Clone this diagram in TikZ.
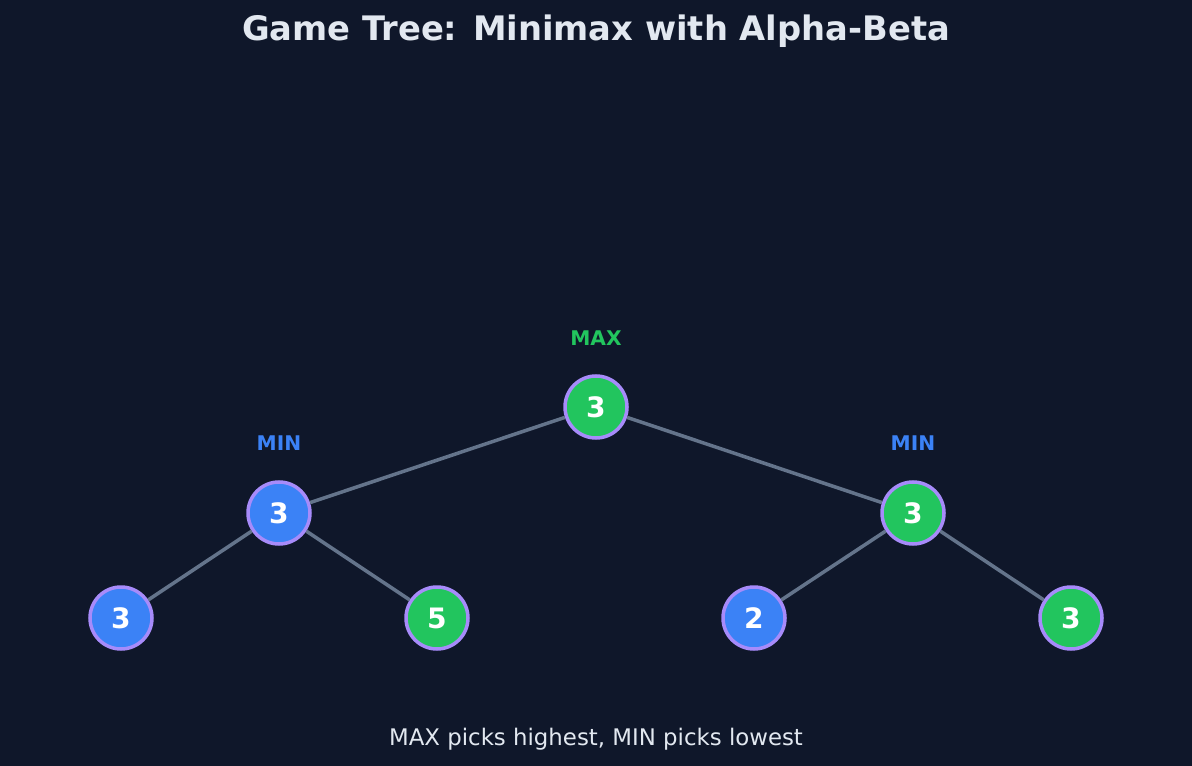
\documentclass[tikz,border=0pt]{standalone}
\usepackage{fontspec}
\setmainfont{DejaVu Sans}
\definecolor{tree_bg}{HTML}{0F172A}
\definecolor{tree_max}{HTML}{22C55E}
\definecolor{tree_min}{HTML}{3B82F6}
\definecolor{tree_ring}{HTML}{A78BFA}
\definecolor{tree_edge}{HTML}{64748B}
\definecolor{tree_text}{HTML}{E2E8F0}
\usetikzlibrary{positioning}

\begin{document}
\begin{tikzpicture}[x=0.02cm, y=-0.02cm,
    maxnode/.style={circle, draw=tree_ring, line width=2pt, fill=tree_max, minimum size=1.24cm, inner sep=0pt, text=white, font=\fontsize{16}{16}\selectfont\bfseries},
    minnode/.style={maxnode, fill=tree_min},
    branch/.style={tree_edge, line width=2pt},
    levellabel/.style={font=\fontsize{11.5}{11.5}\selectfont\bfseries}]
        % Background
        \fill[tree_bg] (0,0) rectangle (1192,766);

        % Title
        \node[text=tree_text, font=\fontsize{19.2}{19.2}\selectfont\bfseries] (title) at (596,31) {Game Tree: Minimax with Alpha-Beta};

        % Root and MIN level
        \node[maxnode] (root) at (596,407) {3};
        \node[minnode] (minL) at (279,513) {3};
        \node[maxnode] (minR) at (913,513) {3};

        % Leaves
        \node[minnode] (leafA) at (121,618) {3};
        \node[maxnode] (leafB) at (437,618) {5};
        \node[minnode] (leafC) at (754,618) {2};
        \node[maxnode] (leafD) at (1071,618) {3};

        % Edges
        \draw[branch] (root) -- (minL);
        \draw[branch] (root) -- (minR);
        \draw[branch] (minL) -- (leafA);
        \draw[branch] (minL) -- (leafB);
        \draw[branch] (minR) -- (leafC);
        \draw[branch] (minR) -- (leafD);

        % Level labels
        \node[levellabel, text=tree_max] (lblMax) at (596,338) {MAX};
        \node[levellabel, text=tree_min] (lblMinL) at (279,443) {MIN};
        \node[levellabel, text=tree_min] (lblMinR) at (913,443) {MIN};

        % Footer
        \node[text=tree_text, font=\fontsize{13}{13}\selectfont] (footer) at (596,739) {MAX picks highest, MIN picks lowest};
\end{tikzpicture}
\end{document}
